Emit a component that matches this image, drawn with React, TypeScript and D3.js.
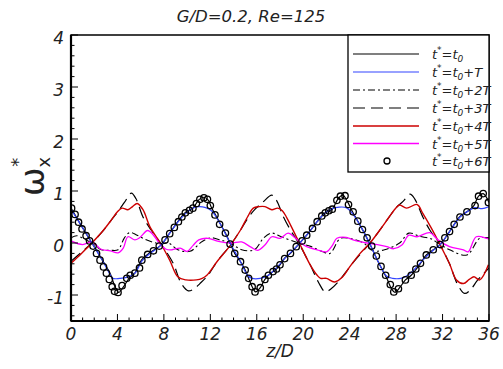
import React from "react";
import * as d3 from "d3";

// t* = t0
const s0Z = [0, 0.9, 1.8, 2.7, 3.4, 3.8, 4.1, 4.5, 5.0, 5.5, 6.1, 6.7, 7.7, 8.5, 9.2, 9.8, 10.5, 11.0, 11.4, 11.8, 12.1, 12.5, 12.9, 13.3, 13.7, 14.1, 14.6, 15.0, 15.3, 15.6, 15.9, 16.3, 16.7, 17.2, 17.6, 18.0, 18.4, 18.9, 19.5, 20.3, 21.2, 21.9, 22.5, 23.0, 23.4, 23.8, 24.2, 25.0, 25.7, 26.5, 27.2, 27.6, 27.9, 28.3, 28.8, 29.3, 30.1, 30.6, 31.2, 31.8, 32.6, 33.5, 34.1, 34.7, 35.1, 35.5, 36.0];
const s0Y = [0.67, 0.33, 0.0, -0.33, -0.6, -0.85, -0.95, -0.85, -0.68, -0.58, -0.32, -0.2, -0.05, 0.19, 0.41, 0.58, 0.67, 0.83, 0.88, 0.83, 0.68, 0.52, 0.35, 0.19, 0.0, -0.2, -0.36, -0.52, -0.68, -0.84, -0.94, -0.86, -0.7, -0.58, -0.52, -0.42, -0.29, -0.2, -0.05, 0.15, 0.41, 0.58, 0.65, 0.85, 0.92, 0.8, 0.62, 0.3, 0.0, -0.38, -0.68, -0.88, -0.95, -0.86, -0.71, -0.62, -0.39, -0.23, -0.13, -0.03, 0.22, 0.51, 0.6, 0.72, 0.9, 0.95, 0.78];

// t* = t0 + T
const s1Z = [0, 0.9, 1.8, 2.7, 3.3, 3.6, 4.2, 4.8, 5.5, 6.1, 6.7, 7.7, 8.5, 9.2, 9.8, 10.4, 11.0, 11.6, 12.1, 12.5, 12.9, 13.7, 14.6, 15.2, 15.6, 16.3, 17.0, 17.6, 18.4, 19.5, 20.3, 21.2, 21.9, 22.5, 23.1, 23.7, 24.2, 25.0, 25.7, 26.5, 27.2, 27.7, 28.4, 29.0, 29.6, 30.3, 31.2, 31.8, 32.6, 33.5, 34.1, 34.8, 35.4, 36.0];
const s1Y = [0.65, 0.33, 0.0, -0.33, -0.58, -0.68, -0.68, -0.66, -0.58, -0.35, -0.22, -0.05, 0.19, 0.4, 0.55, 0.66, 0.7, 0.68, 0.62, 0.5, 0.35, 0.0, -0.36, -0.62, -0.68, -0.68, -0.62, -0.5, -0.3, -0.05, 0.15, 0.41, 0.58, 0.66, 0.69, 0.68, 0.58, 0.3, 0.0, -0.38, -0.64, -0.68, -0.68, -0.62, -0.5, -0.33, -0.14, -0.03, 0.22, 0.5, 0.6, 0.68, 0.66, 0.7];

// t* = t0 + 2T
const s2Z = [0, 0.5, 1.1, 1.8, 2.6, 3.4, 4.05, 4.6, 5.05, 5.6, 6.3, 7.0, 7.7, 8.4, 9.2, 10.25, 11.3, 12.1, 12.8, 13.7, 14.7, 15.8, 16.6, 17.3, 18.1, 19.6, 20.7, 21.7, 22.3, 23.2, 24.0, 25.2, 26.0, 27.0, 28.3, 29.1, 30.0, 31.0, 31.6, 32.6, 34.1, 35.2, 36.0];
const s2Y = [0.1, 0.14, 0.08, 0.0, -0.13, -0.14, -0.13, 0.1, 0.2, 0.16, 0.08, 0.02, -0.02, 0.0, -0.13, -0.16, 0.03, 0.1, 0.06, 0.0, -0.13, -0.13, 0.1, 0.19, 0.12, 0.0, -0.07, -0.17, -0.2, 0.09, 0.09, 0.0, -0.15, -0.13, 0.0, 0.19, 0.13, 0.08, 0.0, -0.13, -0.23, 0.09, 0.1];

// t* = t0 + 3T
const s3Z = [0, 0.9, 1.8, 2.7, 3.5, 4.1, 4.6, 5.2, 5.6, 6.2, 6.9, 7.7, 8.8, 9.5, 10.1, 10.6, 11.1, 11.8, 12.6, 13.7, 14.6, 15.3, 15.9, 16.5, 17.3, 17.7, 18.3, 18.9, 19.6, 20.6, 21.3, 21.9, 22.4, 23.0, 23.6, 24.4, 25.75, 26.6, 27.4, 28.0, 28.6, 29.2, 29.6, 30.3, 30.9, 31.7, 32.6, 33.3, 33.9, 34.4, 35.0, 35.5, 36.0];
const s3Y = [-0.35, -0.18, 0.0, 0.22, 0.45, 0.62, 0.78, 0.96, 0.85, 0.5, 0.25, 0.0, -0.39, -0.78, -0.92, -0.88, -0.78, -0.62, -0.35, -0.05, 0.25, 0.5, 0.66, 0.78, 0.92, 0.82, 0.5, 0.25, 0.0, -0.42, -0.75, -0.94, -0.88, -0.75, -0.58, -0.35, 0.0, 0.25, 0.5, 0.68, 0.8, 0.94, 0.85, 0.5, 0.25, 0.0, -0.4, -0.8, -0.97, -0.9, -0.72, -0.6, -0.48];

// t* = t0 + 4T
const s4Z = [0, 0.9, 1.8, 2.7, 3.5, 4.0, 4.4, 4.9, 5.3, 5.7, 6.2, 6.8, 7.7, 8.5, 9.2, 9.9, 10.8, 11.3, 11.7, 12.6, 13.7, 14.6, 15.2, 15.7, 16.2, 16.7, 17.3, 17.8, 18.2, 18.6, 19.6, 20.6, 21.2, 21.5, 22.0, 22.7, 23.4, 24.0, 24.9, 25.75, 26.6, 27.4, 28.0, 28.3, 28.9, 29.8, 30.3, 31.0, 31.8, 32.6, 33.2, 33.8, 34.3, 34.7, 35.2, 35.95];
const s4Y = [-0.39, -0.2, 0.0, 0.22, 0.45, 0.6, 0.67, 0.64, 0.7, 0.76, 0.64, 0.31, 0.0, -0.33, -0.65, -0.71, -0.71, -0.68, -0.62, -0.35, -0.05, 0.25, 0.5, 0.67, 0.7, 0.7, 0.64, 0.67, 0.62, 0.48, 0.03, -0.42, -0.62, -0.68, -0.68, -0.75, -0.65, -0.46, -0.2, 0.0, 0.25, 0.5, 0.68, 0.73, 0.67, 0.74, 0.57, 0.3, -0.04, -0.4, -0.71, -0.78, -0.7, -0.65, -0.71, -0.42];

// t* = t0 + 5T
const s5Z = [0, 1.0, 1.8, 2.6, 3.4, 4.05, 4.5, 4.9, 5.5, 5.9, 6.6, 7.1, 7.6, 8.2, 8.7, 9.4, 10.0, 10.5, 11.0, 11.8, 12.7, 13.8, 14.7, 15.5, 16.1, 16.7, 17.3, 18.0, 18.7, 19.3, 19.8, 20.3, 21.2, 22.0, 22.5, 22.9, 23.7, 24.3, 25.5, 26.6, 27.2, 27.8, 28.5, 29.1, 29.8, 30.9, 31.6, 32.6, 33.8, 34.2, 34.9, 35.8, 36.0];
const s5Y = [0.04, -0.03, 0.02, -0.12, -0.15, -0.19, -0.1, 0.12, 0.06, 0.1, 0.24, 0.15, 0.0, -0.12, -0.13, -0.1, -0.16, -0.05, 0.06, 0.09, 0.03, 0.0, 0.02, -0.08, -0.14, -0.04, 0.12, 0.09, 0.19, 0.1, 0.0, -0.07, -0.13, -0.17, -0.05, 0.09, 0.11, 0.06, 0.0, -0.04, -0.07, -0.11, -0.04, 0.15, 0.12, 0.2, 0.06, -0.07, -0.13, -0.17, 0.12, 0.09, 0.08];

// t* = t0 + 6T (symbols)
const s6Z = [0.05, 0.35, 0.65, 0.95, 1.3, 1.6, 1.9, 2.2, 2.5, 2.8, 3.05, 3.3, 3.55, 3.75, 4.05, 4.4, 4.8, 5.1, 5.5, 5.9, 6.1, 6.6, 7.1, 7.6, 8.1, 8.5, 8.9, 9.25, 9.55, 9.85, 10.2, 10.5, 10.8, 11.1, 11.45, 11.75, 12.0, 12.4, 12.8, 13.3, 13.7, 14.1, 14.6, 15.0, 15.3, 15.6, 15.85, 16.3, 16.7, 17.0, 17.4, 17.7, 18.0, 18.4, 18.9, 19.4, 19.9, 20.3, 20.8, 21.2, 21.6, 21.9, 22.2, 22.5, 22.9, 23.2, 23.6, 23.9, 24.3, 24.7, 25.1, 25.5, 25.9, 26.3, 26.7, 27.1, 27.5, 27.8, 28.2, 28.8, 29.3, 29.7, 30.1, 30.6, 31.2, 31.8, 32.2, 32.6, 33.0, 33.5, 34.1, 34.8, 35.1, 35.5, 35.95];
const s6Y = [0.67, 0.55, 0.4, 0.27, 0.14, 0.04, -0.06, -0.2, -0.33, -0.46, -0.58, -0.7, -0.84, -0.93, -0.95, -0.82, -0.68, -0.62, -0.58, -0.48, -0.33, -0.22, -0.15, -0.06, 0.06, 0.18, 0.3, 0.41, 0.5, 0.58, 0.63, 0.67, 0.76, 0.84, 0.87, 0.84, 0.72, 0.54, 0.36, 0.19, -0.02, -0.2, -0.36, -0.52, -0.68, -0.84, -0.94, -0.86, -0.7, -0.62, -0.55, -0.5, -0.42, -0.3, -0.2, -0.07, 0.04, 0.15, 0.28, 0.41, 0.52, 0.58, 0.62, 0.65, 0.82, 0.9, 0.91, 0.74, 0.6, 0.42, 0.26, 0.1, -0.06, -0.25, -0.45, -0.62, -0.8, -0.94, -0.88, -0.71, -0.62, -0.5, -0.39, -0.23, -0.13, -0.03, 0.1, 0.22, 0.36, 0.5, 0.6, 0.72, 0.9, 0.95, 0.78];

const xTickValues = [0, 4, 8, 12, 16, 20, 24, 28, 32, 36];
const xTickLabels = ["0", "4", "8", "12", "16", "20", "24", "28", "32", "36"];
const yTickValues = [-1, 0, 1, 2, 3, 4];
const yTickLabels = ["-1", "0", "1", "2", "3", "4"];
const legendSuffix = ["", "+T", "+2T", "+3T", "+4T", "+5T", "+6T"];

const W = 503;
const H = 369;
const m = { left: 71, right: 14, top: 35, bottom: 48 };
const font = "'DejaVu Sans', sans-serif";

const lineSeries = [
  { z: s0Z, y: s0Y, color: "#000000", dash: "", w: 1.2 },
  { z: s1Z, y: s1Y, color: "#3344ff", dash: "", w: 1.2 },
  { z: s2Z, y: s2Y, color: "#000000", dash: "7,3,2,3", w: 1.1 },
  { z: s3Z, y: s3Y, color: "#000000", dash: "12,6", w: 1.2 },
  { z: s4Z, y: s4Y, color: "#cc0000", dash: "", w: 1.4 },
  { z: s5Z, y: s5Y, color: "#ff00ff", dash: "", w: 1.3 },
];

export default function App() {
  const x = d3.scaleLinear().domain([0, 36]).range([m.left, W - m.right]);
  const y = d3.scaleLinear().domain([-1.5, 4]).range([H - m.bottom, m.top]);
  const line = d3
    .line<[number, number]>()
    .x((d) => x(d[0]))
    .y((d) => y(d[1]))
    .curve(d3.curveCatmullRom.alpha(0.5));

  const x0 = x(0), x1 = x(36), yb = y(-1.5), yt = y(4);
  const xMinor = x.ticks(36);
  const yMinor = d3.range(-1.4, 4.0001, 0.2);

  // draw order: lines under symbols, as in the original
  const order = [3, 2, 4, 5, 0, 1];

  const legendX = 348;
  const legendRows = [54, 72, 90, 108, 126, 143.5, 161];

  return (
    <svg width={W} height={H} style={{ position: "absolute", left: 0, top: 0, background: "#fff" }}>
      <defs>
        <clipPath id="plot">
          <rect x={x0} y={yt} width={x1 - x0} height={yb - yt} />
        </clipPath>
      </defs>
      <text x={251} y={22} textAnchor="middle" fontFamily={font} fontStyle="italic" fontSize={16.5} fill="#222">
        G/D=0.2, Re=125
      </text>

      <g clipPath="url(#plot)">
        {order.map((i) => {
          const s = lineSeries[i];
          const pts = s.z.map((z, k) => [z, s.y[k]] as [number, number]);
          return (
            <path key={i} d={line(pts) || ""} fill="none" stroke={s.color} strokeWidth={s.w} strokeDasharray={s.dash || undefined} />
          );
        })}
        {s6Z.map((z, k) => (
          <circle key={k} cx={x(z)} cy={y(s6Y[k])} r={3.2} fill="none" stroke="#000" strokeWidth={1.3} />
        ))}
      </g>

      {/* ticks */}
      {xMinor.map((t) => (
        <line key={"xm" + t} x1={x(t)} x2={x(t)} y1={yb} y2={yb - (t % 4 === 0 ? 7 : 3.5)} stroke="#000" strokeWidth={1} />
      ))}
      {yMinor.map((t) => {
        const major = Math.abs(t - Math.round(t)) < 1e-6;
        return <line key={"ym" + t.toFixed(1)} x1={x0} x2={x0 + (major ? 7 : 3.5)} y1={y(t)} y2={y(t)} stroke="#000" strokeWidth={1} />;
      })}

      {/* frame */}
      <rect x={x0} y={yt} width={x1 - x0} height={yb - yt} fill="none" stroke="#000" strokeWidth={1.5} />
      <line x1={x0} x2={x0} y1={yt} y2={yb} stroke="#000" strokeWidth={2.2} />
      <line x1={x0} x2={x1} y1={yb} y2={yb} stroke="#000" strokeWidth={2.2} />

      {xTickValues.map((t, i) => (
        <text key={"xl" + t} x={x(t)} y={yb + 19} textAnchor="middle" fontFamily={font} fontStyle="italic" fontSize={17} fill="#222">
          {xTickLabels[i]}
        </text>
      ))}
      {yTickValues.map((t, i) => (
        <text key={"yl" + t} x={64} y={y(t) + 9} textAnchor="end" fontFamily={font} fontStyle="italic" fontSize={17} fill="#222">
          {yTickLabels[i]}
        </text>
      ))}

      <text x={(x0 + x1) / 2} y={357} textAnchor="middle" fontFamily={font} fontStyle="italic" fontSize={17} fill="#222">
        z/D
      </text>

      <g transform="translate(44,196) rotate(-90)">
        <text x={0} y={0} fontFamily={font} fontSize={34} fill="#222">
          ω
          <tspan fontSize={18} dy={6}>x</tspan>
          <tspan fontSize={18} dx={-10} dy={-26}>*</tspan>
        </text>
      </g>

      {/* legend */}
      <rect x={legendX} y={yt} width={x1 - legendX} height={172 - yt} fill="#fff" stroke="#000" strokeWidth={1.3} />
      {legendSuffix.map((suf, i) => {
        const ry = legendRows[i];
        return (
          <g key={"lg" + i}>
            {i < 6 ? (
              <line x1={353} x2={419} y1={ry} y2={ry} stroke={lineSeries[i].color} strokeWidth={lineSeries[i].w} strokeDasharray={lineSeries[i].dash || undefined} />
            ) : (
              <circle cx={387} cy={ry} r={3} fill="none" stroke="#000" strokeWidth={1.3} />
            )}
            <text x={432} y={ry + 5} fontFamily={font} fontStyle="italic" fontSize={13} fill="#222">
              t<tspan fontSize={9} dy={-6}>*</tspan>
              <tspan dy={6}>=t</tspan>
              <tspan fontSize={9} dy={3}>0</tspan>
              <tspan dy={-3}>{suf}</tspan>
            </text>
          </g>
        );
      })}
    </svg>
  );
}
